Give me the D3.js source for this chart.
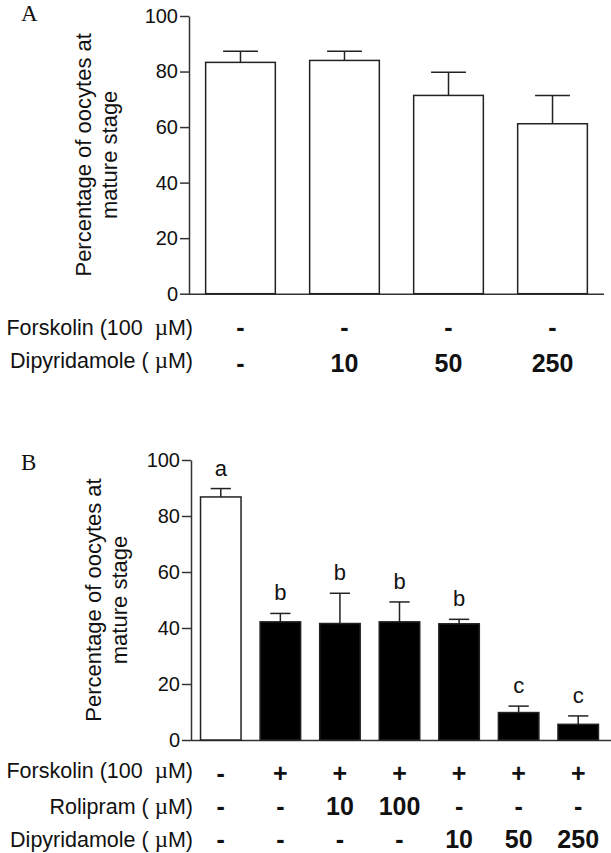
<!DOCTYPE html>
<html>
<head>
<meta charset="utf-8">
<script src="https://cdn.jsdelivr.net/npm/d3@7"></script>
<style>
  html, body { margin: 0; padding: 0; background: #fff; }
  svg text { font-family: Arial, "Liberation Sans", Helvetica, sans-serif; fill: #111; }
</style>
</head>
<body>
<svg id="chart" width="611" height="853"></svg>
<script>
// ---------- Data ----------
const yTicks = [0, 20, 40, 60, 80, 100];
const yTitleLines = ["Percentage of oocytes at", "mature stage"];

// Panel A
const aGroups = ["A1", "A2", "A3", "A4"];
const aMean = [83.3, 84.0, 71.4, 61.2];
const aSem = [4.0, 3.3, 8.3, 10.2];
const aRowLabels = ["Forskolin (100  µM)", "Dipyridamole ( µM)"];
const aForskolin = ["-", "-", "-", "-"];
const aDipyridamole = ["-", "10", "50", "250"];

// Panel B
const bGroups = ["B1", "B2", "B3", "B4", "B5", "B6", "B7"];
const bMean = [86.8, 42.2, 41.6, 42.2, 41.5, 9.8, 5.6];
const bSem = [3.0, 3.0, 10.8, 7.1, 1.6, 2.3, 3.0];
const bLetters = ["a", "b", "b", "b", "b", "c", "c"];
const bRowLabels = ["Forskolin (100  µM)", "Rolipram ( µM)", "Dipyridamole ( µM)"];
const bForskolin = ["-", "+", "+", "+", "+", "+", "+"];
const bRolipram = ["-", "-", "10", "100", "-", "-", "-"];
const bDipyridamole = ["-", "-", "-", "-", "10", "50", "250"];

// ---------- Drawing ----------
const svg = d3.select("#chart");
const AXIS = "#333";
const BAR_STROKE = "#222";
const SERIF = "'Liberation Serif', 'Times New Roman', serif";

function rowLabel(sel, label) {
  // µ drawn in a serif face, as in the original figure
  const parts = label.split("µ");
  parts.forEach((p, i) => {
    if (i > 0) sel.append("tspan").style("font-family", SERIF).style("font-size", "23px").text("µ");
    sel.append("tspan").text(p);
  });
}

function panel(cfg) {
  const g = svg.append("g");
  const x = d3.scaleBand().domain(cfg.groups).range([cfg.x0, cfg.x1])
    .paddingInner(cfg.padIn).paddingOuter(cfg.padOut);
  const y = d3.scaleLinear().domain([0, 100]).range([cfg.yBottom, cfg.yTop]);

  // panel letter
  g.append("text").attr("x", 21).attr("y", cfg.letterY)
    .style("font-family", SERIF)
    .style("font-size", "23px").text(cfg.letter);

  // y axis
  const ya = g.append("g").attr("transform", `translate(${cfg.x0},0)`)
    .call(d3.axisLeft(y).tickValues(yTicks).tickSize(9).tickSizeOuter(0).tickPadding(2));
  ya.selectAll("path,line").attr("stroke", AXIS).attr("stroke-width", 1.5);
  ya.selectAll("text").style("font-size", "20px").attr("fill", "#111");

  // x axis line
  const xa = g.append("g").attr("transform", `translate(0,${cfg.yBottom})`)
    .call(d3.axisBottom(x).tickValues([]).tickSizeOuter(0));
  xa.select("path").attr("stroke", AXIS).attr("stroke-width", 1.5)
    .attr("d", `M${cfg.x0},0.5H${cfg.axisEnd}`);

  // y title
  const ty = (cfg.yTop + cfg.yBottom) / 2;
  yTitleLines.forEach((t, i) => {
    g.append("text")
      .attr("transform", `translate(${cfg.titleX[i]},${ty}) rotate(-90)`)
      .attr("text-anchor", "middle")
      .style("font-size", "22px")
      .text(t);
  });

  const idx = cfg.groups.map((d, i) => i);
  const bw = x.bandwidth();
  const cx = i => x(cfg.groups[i]) + bw / 2;

  // error bars (upper only)
  const eg = g.append("g").attr("stroke", BAR_STROKE).attr("stroke-width", 1.5);
  eg.selectAll("line.v").data(idx).join("line").attr("class", "v")
    .attr("x1", cx).attr("x2", cx)
    .attr("y1", i => y(cfg.mean[i])).attr("y2", i => y(cfg.mean[i] + cfg.sem[i]));
  eg.selectAll("line.c").data(idx).join("line").attr("class", "c")
    .attr("x1", i => cx(i) - bw / 4).attr("x2", i => cx(i) + bw / 4)
    .attr("y1", i => y(cfg.mean[i] + cfg.sem[i])).attr("y2", i => y(cfg.mean[i] + cfg.sem[i]));

  // bars
  g.selectAll("rect.bar").data(idx).join("rect").attr("class", "bar")
    .attr("x", i => x(cfg.groups[i]))
    .attr("y", i => y(cfg.mean[i]))
    .attr("width", bw)
    .attr("height", i => y(0) - y(cfg.mean[i]))
    .attr("fill", i => cfg.forskolin[i] === "+" ? "#000" : "#fff")
    .attr("stroke", BAR_STROKE).attr("stroke-width", 1.5);

  // significance letters
  if (cfg.letters) {
    g.selectAll("text.sig").data(idx).join("text").attr("class", "sig")
      .attr("x", cx).attr("y", i => y(cfg.mean[i] + cfg.sem[i]) - 13)
      .attr("text-anchor", "middle").style("font-size", "22px")
      .text(i => cfg.letters[i]);
  }

  // treatment rows
  cfg.rows.forEach((row, r) => {
    const lt = g.append("text").attr("x", cfg.labelEnd).attr("y", row.labelY)
      .attr("text-anchor", "end").style("font-size", "21.5px")
      .style("white-space", "pre");
    rowLabel(lt, row.label);
    g.selectAll(`text.row${r}`).data(idx).join("text").attr("class", `row${r}`)
      .attr("x", cx).attr("y", row.valueY)
      .attr("text-anchor", "middle").style("font-size", "25px").style("font-weight", "bold")
      .text(i => row.values[i]);
  });
}

panel({
  letter: "A", letterY: 21,
  groups: aGroups, mean: aMean, sem: aSem, forskolin: aForskolin,
  x0: 189, x1: 604, axisEnd: 604, padIn: 0.33, padOut: 0.16,
  yTop: 16, yBottom: 293.7,
  titleX: [91, 117],
  labelEnd: 193,
  rows: [
    { label: aRowLabels[0], values: aForskolin, labelY: 335, valueY: 336 },
    { label: aRowLabels[1], values: aDipyridamole, labelY: 368, valueY: 372 }
  ]
});

panel({
  letter: "B", letterY: 470,
  groups: bGroups, mean: bMean, sem: bSem, forskolin: bForskolin, letters: bLetters,
  x0: 191, x1: 608, axisEnd: 611, padIn: 0.32, padOut: 0.16,
  yTop: 460, yBottom: 740,
  titleX: [101, 127],
  labelEnd: 193,
  rows: [
    { label: bRowLabels[0], values: bForskolin, labelY: 778, valueY: 782 },
    { label: bRowLabels[1], values: bRolipram, labelY: 814, valueY: 815 },
    { label: bRowLabels[2], values: bDipyridamole, labelY: 847, valueY: 848 }
  ]
});
</script>
</body>
</html>
